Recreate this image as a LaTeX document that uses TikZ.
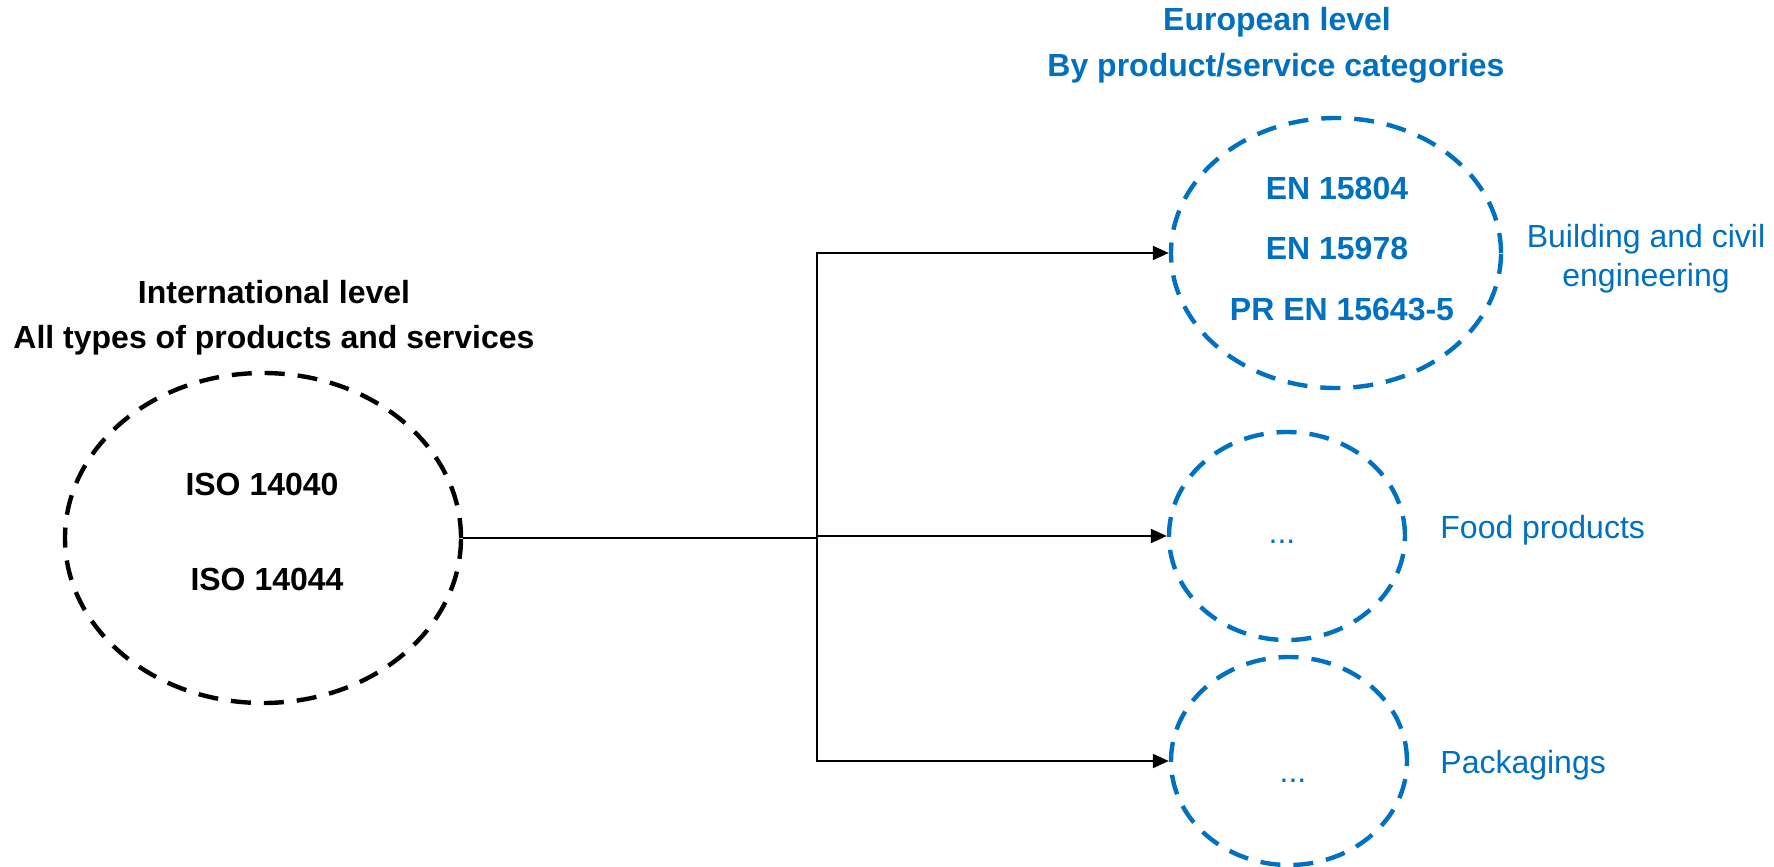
\documentclass[tikz,border=0pt]{standalone}
\usepackage{fontspec}
\setmainfont{Liberation Sans}
\usetikzlibrary{shapes.geometric,arrows.meta}
\definecolor{blueC}{RGB}{0,112,192}
\begin{document}
\begin{tikzpicture}[x=0.5pt,y=-0.5pt,
  circ/.style={ellipse,draw,line width=2.2pt,dash pattern=on 10pt off 6.5pt,inner sep=0pt},
  conn/.style={line width=1pt},
  arr/.style={conn,-{Triangle[length=8pt,width=7pt]}},
  lbl/.style={font=\fontsize{16}{19}\selectfont\bfseries,anchor=base,inner sep=0pt},
  cat/.style={font=\fontsize{16}{19}\selectfont,text=blueC,anchor=base,inner sep=0pt}]
\useasboundingbox (0,0) rectangle (1774,867);
% ellipses
\node[circ,minimum width=198pt,minimum height=165pt] (iso) at (263,538) {};
\node[circ,draw=blueC,minimum width=165pt,minimum height=135pt] (en) at (1336,253) {};
\node[circ,draw=blueC,minimum width=118pt,minimum height=104pt] (food) at (1287,536) {};
\node[circ,draw=blueC,minimum width=118pt,minimum height=104pt] (pack) at (1289,761) {};
% connectors
\coordinate (split) at (817,538);
\draw[conn] (iso.east) -- (split);
\draw[arr] (split) |- (en.west);
\draw[arr] (split) |- (food.west);
\draw[arr] (split) |- (pack.west);
% titles
\node[lbl] (intl1) at (274,303) {International level};
\node[lbl] (intl2) at (274,348) {All types of products and services};
\node[lbl,text=blueC] (eu1) at (1277,31) {European level};
\node[lbl,text=blueC] (eu2) at (1276,76) {By product/service categories};
% standards
\node[lbl] (iso1) at (262,495) {ISO 14040};
\node[lbl] (iso2) at (267,590) {ISO 14044};
\node[lbl,text=blueC] (en1) at (1337,199) {EN 15804};
\node[lbl,text=blueC] (en2) at (1337,259) {EN 15978};
\node[lbl,text=blueC] (en3) at (1342,320) {PR EN 15643-5};
\node[cat] (dots1) at (1282,543) {...};
\node[cat] (dots2) at (1293,782) {...};
% category labels
\node[cat] (bld1) at (1646,247) {Building and civil};
\node[cat] (bld2) at (1646,286) {engineering};
\node[cat,anchor=base west] (foodl) at (1440,538) {Food products};
\node[cat,anchor=base west] (packl) at (1440,773) {Packagings};
\end{tikzpicture}
\end{document}
